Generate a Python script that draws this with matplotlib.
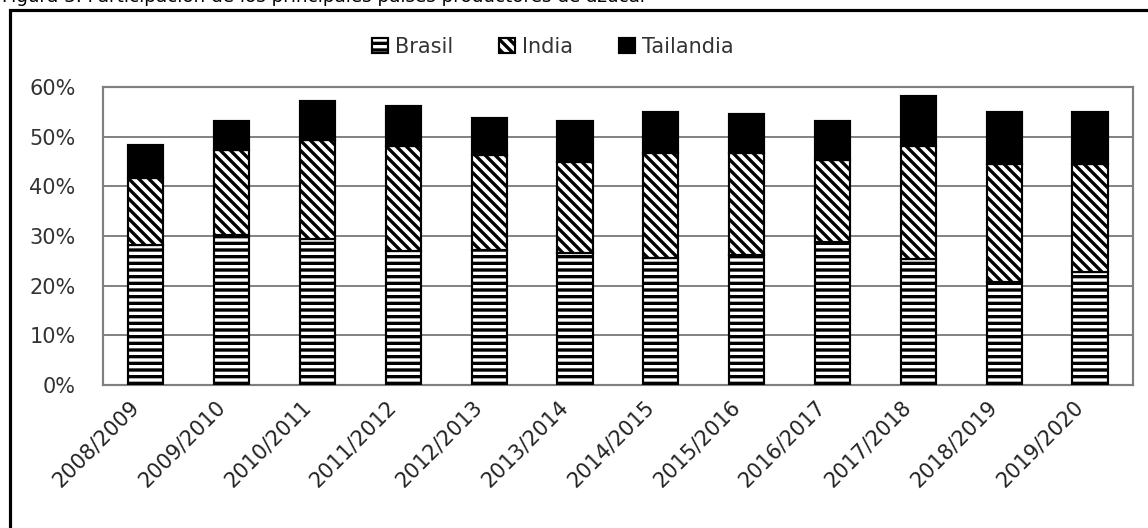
import matplotlib
matplotlib.use("Agg")
import matplotlib.pyplot as plt
from matplotlib.patches import Rectangle
from matplotlib.ticker import PercentFormatter
from matplotlib.transforms import ScaledTranslation

seasons = ["2008/2009", "2009/2010", "2010/2011", "2011/2012", "2012/2013", "2013/2014",
           "2014/2015", "2015/2016", "2016/2017", "2017/2018", "2018/2019", "2019/2020"]

# share of world production, in percent
brasil = [28.1, 30.2, 29.4, 27.0, 27.2, 26.5, 25.5, 26.2, 28.7, 25.4, 20.8, 22.8]
india = [13.6, 17.1, 19.9, 21.2, 19.1, 18.5, 21.3, 20.6, 16.7, 22.8, 23.8, 21.8]
tailandia = [6.6, 5.9, 7.9, 8.0, 7.4, 8.2, 8.1, 7.8, 7.8, 10.0, 10.4, 10.3]

DPI = 120
plt.rcParams["font.family"] = "DejaVu Sans"
plt.rcParams["hatch.linewidth"] = 2.0
plt.rcParams["hatch.color"] = "black"

fig = plt.figure(figsize=(1148 / DPI, 528 / DPI), dpi=DPI)
ax = fig.add_axes([0.0897, 0.2708, 0.8972, 0.5644])

x = range(len(seasons))
w = 0.41
bottom2 = [b + i for b, i in zip(brasil, india)]

ax.bar(x, brasil, w, color="white", edgecolor="black", linewidth=1.3,
       hatch="---", label="Brasil", zorder=3)
ax.bar(x, india, w, bottom=brasil, color="white", edgecolor="black", linewidth=1.3,
       hatch="\\\\\\\\", label="India", zorder=3)
ax.bar(x, tailandia, w, bottom=bottom2, color="black", edgecolor="black", linewidth=1.3,
       label="Tailandia", zorder=3)

ax.set_xlim(-0.5, len(seasons) - 0.5)
ax.set_ylim(0, 60)
ax.set_yticks(range(0, 61, 10))
ax.yaxis.set_major_formatter(PercentFormatter(decimals=0))
ax.set_xticks(list(x))
ax.set_xticklabels(seasons, rotation=45, ha="right", va="top", rotation_mode="anchor")
ax.tick_params(axis="y", length=0, pad=16.5, labelsize=12.5, labelcolor="#333333")
ax.tick_params(axis="x", length=0, pad=7, labelsize=12.5, labelcolor="#222222")
shift = ScaledTranslation(-17 / DPI, 0, fig.dpi_scale_trans)
for lab in ax.get_xticklabels():
    lab.set_transform(lab.get_transform() + shift)

ax.grid(axis="y", color="#7f7f7f", linewidth=1.15, zorder=0)
for s in ax.spines.values():
    s.set_color("#7f7f7f")
    s.set_linewidth(1.3)

fig.legend(loc="center", bbox_to_anchor=(553 / 1148, 1 - 47 / 528), ncol=3,
           frameon=False, fontsize=12.5, handlelength=0.75, handleheight=0.75,
           handletextpad=0.35, columnspacing=2.2, labelcolor="#333333")

# outer frame and the caption line clipped at the top edge
fig.patches.append(Rectangle((10 / 1148, -0.05), 1.1, 1 - 10 / 528 + 0.05,
                             transform=fig.transFigure, fill=False,
                             edgecolor="black", linewidth=1.9))
fig.text(0.002, 1 - 1.5 / 528,
         "Figura 3. Participación de los principales países productores de azúcar",
         fontsize=11, va="baseline", ha="left", color="black")

fig.savefig("out.png", dpi=DPI)
